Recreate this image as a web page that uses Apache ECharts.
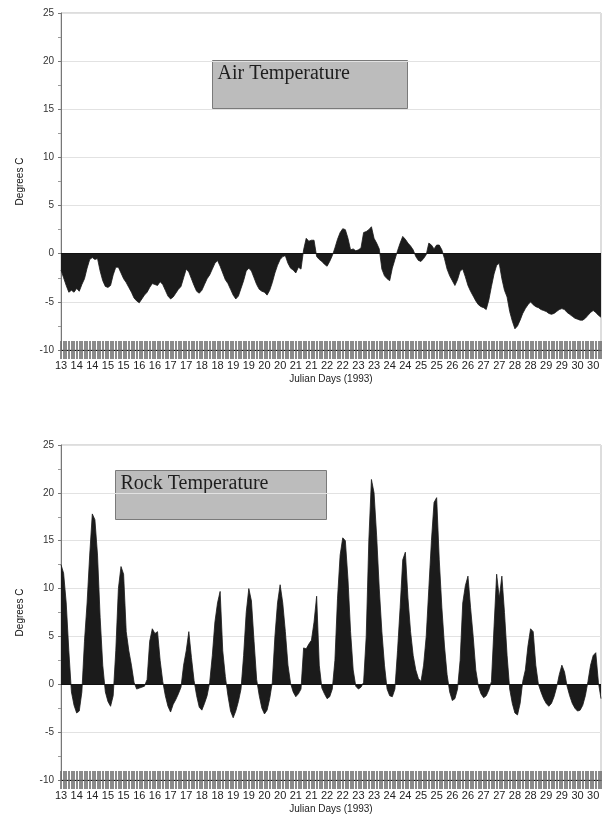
<!DOCTYPE html>
<html>
<head>
<meta charset="utf-8">
<script src="https://cdn.jsdelivr.net/npm/echarts@6/dist/echarts.min.js"></script>
<style>
html, body { margin: 0; padding: 0; background: #fff; }
#chart { width: 605px; height: 815px; }
</style>
</head>
<body>
<div id="chart"></div>
<script>
// half-day tick labels as printed on the x axis
var dayLabels = ['13','14','14','15','15','16','16','17','17','18','18','19','19','20','20','21','21',
    '22','22','23','23','24','24','25','25','26','26','27','27','28','28','29','29','30','30'];

// 2-hourly readings, 12 per day from day 13.0
var airTemp = [
    -1.7,-2.5,-3.3,-4.0,-3.8,-4.0,-3.6,-3.9,-3.2,-2.6,-1.5,-0.6,
    -0.4,-0.6,-0.5,-1.8,-2.8,-3.4,-3.5,-3.3,-2.2,-1.4,-1.4,-2.0,
    -2.6,-3.0,-3.5,-4.0,-4.6,-4.9,-5.1,-4.7,-4.3,-4.0,-3.5,-3.1,
    -3.2,-3.3,-2.9,-3.2,-3.8,-4.4,-4.7,-4.5,-4.1,-3.7,-3.4,-2.5,
    -1.6,-1.9,-2.6,-3.3,-3.9,-4.1,-3.8,-3.2,-2.6,-2.2,-1.6,-1.0,
    -0.7,-1.3,-2.0,-2.7,-3.1,-3.7,-4.3,-4.7,-4.4,-3.6,-2.8,-1.8,
    -1.5,-1.8,-2.5,-3.2,-3.7,-3.9,-4.0,-4.3,-3.8,-3.0,-2.0,-1.2,
    -0.6,-0.3,-0.2,-1.0,-1.5,-1.7,-2.0,-1.4,-1.6,0.4,1.6,1.3,
    1.4,1.4,-0.3,-0.6,-0.8,-1.1,-1.3,-0.8,-0.2,0.6,1.5,2.2,
    2.6,2.5,1.6,0.4,0.5,0.3,0.4,0.6,2.2,2.3,2.5,2.8,
    1.6,1.1,0.5,-1.6,-2.3,-2.6,-2.8,-1.5,-0.6,0.3,1.1,1.8,
    1.5,1.1,0.8,0.4,-0.3,-0.7,-0.8,-0.5,-0.1,1.1,0.9,0.5,
    0.9,0.9,0.4,-0.5,-1.6,-2.3,-2.8,-3.3,-2.7,-1.8,-1.6,-2.4,
    -3.3,-3.9,-4.4,-4.9,-5.3,-5.5,-5.6,-5.8,-4.8,-3.4,-2.1,-1.2,
    -1.0,-2.6,-3.8,-4.5,-6.0,-7.0,-7.8,-7.5,-6.9,-6.2,-5.7,-5.3,
    -5.0,-5.3,-5.5,-5.6,-5.8,-5.9,-6.0,-6.2,-6.3,-6.2,-6.0,-5.8,
    -5.7,-5.8,-6.1,-6.3,-6.5,-6.7,-6.8,-6.9,-6.9,-6.7,-6.4,-6.1,
    -5.9,-6.1,-6.4,-6.6
];

var rockTemp = [
    12.5,11.6,8.5,3.5,-0.8,-2.2,-3.0,-2.8,-0.8,4.5,8.5,13.5,
    17.8,17.2,13.5,7.0,2.0,-0.8,-1.8,-2.3,-1.2,3.5,10.0,12.3,
    11.5,5.5,3.5,2.0,0.2,-0.5,-0.4,-0.3,-0.2,0.5,4.5,5.8,
    5.3,5.5,2.5,0.3,-1.2,-2.3,-2.9,-2.1,-1.6,-1.0,-0.3,2.0,
    3.5,5.5,2.8,0.4,-1.2,-2.4,-2.7,-2.0,-1.2,0.2,3.0,6.5,
    8.5,9.7,3.5,0.8,-1.2,-2.8,-3.5,-2.8,-1.8,-0.5,3.0,7.5,
    10.0,8.7,4.5,0.5,-1.2,-2.5,-3.1,-2.7,-1.5,0.2,5.0,8.5,
    10.4,8.5,5.5,2.0,0.1,-0.8,-1.3,-1.0,-0.5,3.8,3.7,4.2,
    4.6,6.5,9.2,2.0,-0.4,-1.0,-1.5,-1.3,-0.5,2.5,9.0,13.5,
    15.3,15.0,11.0,5.5,1.5,-0.2,-0.5,-0.3,0.2,5.0,15.0,21.4,
    20.0,15.5,10.0,5.5,2.0,-0.5,-1.2,-1.3,-0.5,3.5,8.0,13.0,
    13.8,9.0,5.5,3.0,1.5,0.6,0.3,2.0,5.0,10.0,15.0,19.0,
    19.5,13.0,8.0,4.0,1.0,-0.8,-1.7,-1.5,-0.5,2.5,8.5,10.3,
    11.3,8.0,5.0,1.5,-0.2,-1.0,-1.4,-1.2,-0.6,0.3,6.0,11.5,
    9.0,11.3,7.5,3.0,-0.5,-2.0,-3.0,-3.2,-2.0,0.3,1.5,4.0,
    5.8,5.5,2.0,0.0,-0.8,-1.5,-2.0,-2.3,-2.0,-1.3,-0.3,1.0,
    2.0,1.3,-0.2,-1.2,-2.0,-2.5,-2.8,-2.7,-2.2,-1.2,0.3,2.0,
    3.0,3.3,0.2,-1.5
];

var pointsPerLabel = 6;
var categories = airTemp.map(function (v, i) { return String(i); });

var chart = echarts.init(document.getElementById('chart'));

function tickAxis(gridIndex, inside, withLabel) {
    return {
        type: 'category',
        gridIndex: gridIndex,
        position: 'bottom',
        data: categories,
        boundaryGap: false,
        axisLine: { show: true, onZero: false, lineStyle: { color: '#111', width: 1 } },
        axisTick: {
            show: true, inside: inside, length: 9, interval: 0,
            lineStyle: { color: '#6e6e6e', width: 1.6 }
        },
        axisLabel: {
            show: withLabel,
            interval: function (i) { return i % pointsPerLabel === 0; },
            formatter: function (v, i) { return dayLabels[i / pointsPerLabel] || ''; },
            margin: 10,
            fontSize: 11,
            color: '#222',
            fontFamily: 'Liberation Sans, Arial, sans-serif'
        },
        name: withLabel ? 'Julian Days (1993)' : '',
        nameLocation: 'middle',
        nameGap: 24,
        nameTextStyle: { fontSize: 10, color: '#222', fontFamily: 'Liberation Sans, Arial, sans-serif' },
        splitLine: { show: false }
    };
}

function valueAxis(gridIndex) {
    return {
        type: 'value',
        gridIndex: gridIndex,
        min: -10,
        max: 25,
        interval: 5,
        name: 'Degrees C',
        nameLocation: 'middle',
        nameRotate: 90,
        nameGap: 36,
        nameTextStyle: { fontSize: 10, color: '#111', fontFamily: 'Liberation Sans, Arial, sans-serif' },
        axisLine: { show: true, lineStyle: { color: '#777', width: 1 } },
        axisTick: { show: true, length: 3, lineStyle: { color: '#777' } },
        minorTick: { show: true, splitNumber: 2, length: 3, lineStyle: { color: '#999' } },
        axisLabel: { fontSize: 10, color: '#333', margin: 7, fontFamily: 'Liberation Sans, Arial, sans-serif' },
        splitLine: { show: true, lineStyle: { color: '#e2e2e2', width: 1 } }
    };
}

function tempSeries(name, axisIndex, values) {
    return {
        name: name,
        type: 'line',
        xAxisIndex: axisIndex * 2,
        yAxisIndex: axisIndex,
        data: values,
        symbol: 'none',
        silent: true,
        lineStyle: { color: '#1b1b1b', width: 0.8 },
        areaStyle: { color: '#1b1b1b', opacity: 1, origin: 0 },
        markLine: {
            silent: true,
            symbol: 'none',
            label: { show: false },
            lineStyle: { color: '#111', type: 'solid', width: 1 },
            data: [{ yAxis: 0 }]
        },
        z: 3
    };
}

function titleBox(x, y, w, h, text) {
    return {
        type: 'group',
        left: x,
        top: y,
        children: [
            { type: 'rect', shape: { x: 0, y: 0, width: w, height: h },
              style: { fill: '#bcbcbc', stroke: '#7a7a7a', lineWidth: 1 } },
            { type: 'text', left: 5, top: 3,
              style: { text: text, fill: '#1e1e1e', font: '20px "Liberation Serif", "Times New Roman", serif' } }
        ]
    };
}

var option = {
    animation: false,
    backgroundColor: '#fff',
    grid: [
        { left: 61, right: 4, top: 13, height: 337, show: true, borderColor: '#bbb', borderWidth: 1, backgroundColor: 'transparent' },
        { left: 61, right: 4, top: 445, height: 338, show: true, borderColor: '#bbb', borderWidth: 1, backgroundColor: 'transparent' }
    ],
    xAxis: [
        tickAxis(0, false, true),
        tickAxis(0, true, false),
        tickAxis(1, false, true),
        tickAxis(1, true, false)
    ],
    yAxis: [valueAxis(0), valueAxis(1)],
    series: [
        tempSeries('Air Temperature', 0, airTemp),
        tempSeries('Rock Temperature', 1, rockTemp)
    ],
    graphic: [
        titleBox(212, 60, 195, 48, 'Air Temperature'),
        titleBox(115, 470, 211, 49, 'Rock Temperature')
    ]
};

chart.setOption(option);
</script>
</body>
</html>
